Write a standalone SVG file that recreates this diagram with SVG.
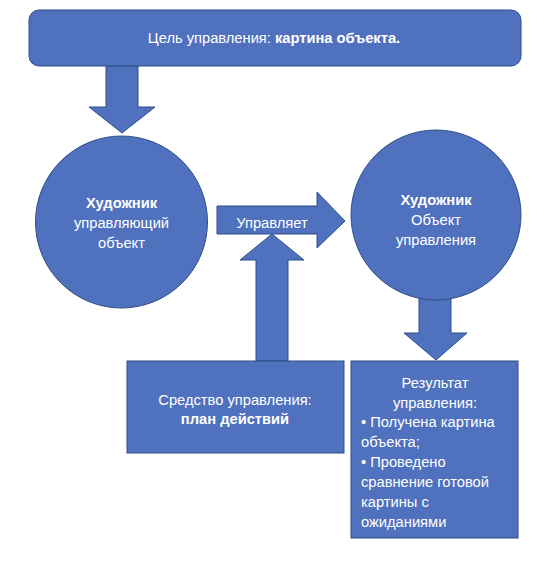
<svg xmlns="http://www.w3.org/2000/svg" width="548" height="562" viewBox="0 0 548 562">
<style>
.s{fill:#4F71BE;stroke:#2F4E87;stroke-width:1}
.t{font-family:"Liberation Sans","Noto Sans",sans-serif;font-size:14.7px;fill:#FFFFFF}
.c{text-anchor:middle}
.b{font-weight:bold}
</style>
<rect width="548" height="562" fill="#FFFFFF"/>
<g id="connectors">
<polygon id="arrow-goal" class="s" points="106,66 138,66 138,107 155,107 122,133 89,107 106,107"/>
<polygon id="arrow-manage" class="s" points="217,206 317,206 317,192 345,221 317,248 317,234 217,234"/>
<polygon id="arrow-means" class="s" points="256,361 256,260 240,260 272,234 304,260 288,260 288,361"/>
<polygon id="arrow-result" class="s" points="419,296 451,296 451,333 467,333 436,360 404,333 419,333"/>
<text class="t c" x="272" y="228">Управляет</text>
</g>
<g id="goal">
<rect class="s" x="29" y="10" width="492" height="56" rx="10"/>
<text class="t c" x="274" y="43">Цель управления: <tspan class="b">картина объекта.</tspan></text>
</g>
<g id="subject">
<circle class="s" cx="121.5" cy="222" r="86"/>
<text class="t c" x="121.5" y="208"><tspan class="b">Художник</tspan><tspan x="121.5" dy="20">управляющий</tspan><tspan x="121.5" dy="20">объект</tspan></text>
</g>
<g id="object">
<circle class="s" cx="436" cy="215" r="85"/>
<text class="t c" x="436" y="205"><tspan class="b">Художник</tspan><tspan x="436" dy="20">Объект</tspan><tspan x="436" dy="20">управления</tspan></text>
</g>
<g id="means">
<rect class="s" x="127" y="361" width="217" height="92"/>
<text class="t c" x="235" y="405">Средство управления:<tspan class="b" x="235" dy="19">план действий</tspan></text>
</g>
<g id="result">
<rect class="s" x="351" y="361" width="167" height="177"/>
<text class="t" x="435" y="388"><tspan class="c">Результат</tspan><tspan class="c" x="435" dy="20">управления:</tspan><tspan x="361" dy="19">• Получена картина</tspan><tspan x="361" dy="20">объекта;</tspan><tspan x="361" dy="20">• Проведено</tspan><tspan x="361" dy="20">сравнение готовой</tspan><tspan x="361" dy="20">картины с</tspan><tspan x="361" dy="20">ожиданиями</tspan></text>
</g>
</svg>
